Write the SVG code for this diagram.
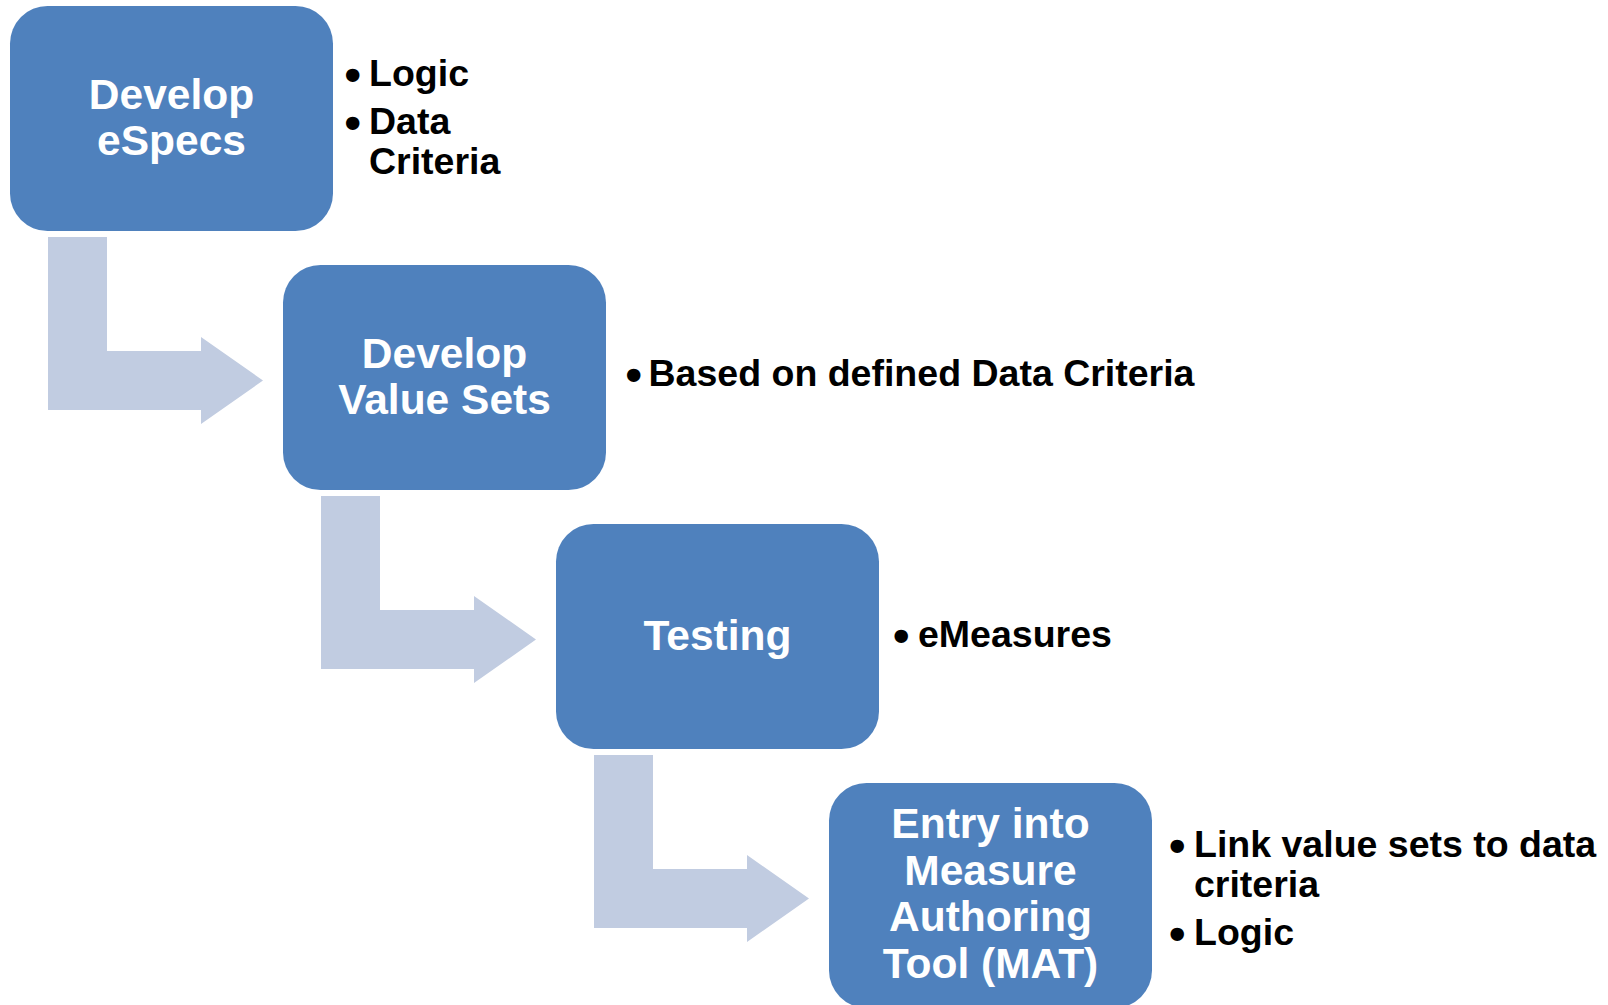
<svg xmlns="http://www.w3.org/2000/svg" width="1608" height="1005" viewBox="0 0 1608 1005">
  <defs>
    <style>
      .box { fill: #4F81BD; }
      .arrow { fill: #C1CCE1; }
      .bt { font-family: "Liberation Sans", Arial, sans-serif; font-weight: bold; font-size: 42.5px; fill: #FFFFFF; text-anchor: middle; }
      .lt { font-family: "Liberation Sans", Arial, sans-serif; font-weight: bold; font-size: 37.5px; fill: #000000; }
      .bu { font-size: 47px; }
    </style>
    <path id="bend" d="M48,237 H107 V351 H201 V337 L263,380.5 L201,424 V410 H48 Z"/>
  </defs>
  <rect width="1608" height="1005" fill="#FFFFFF"/>

  <g id="connectors">
    <use href="#bend" class="arrow"/>
    <use href="#bend" class="arrow" transform="translate(273,259)"/>
    <use href="#bend" class="arrow" transform="translate(546,518)"/>
  </g>

  <g id="node-develop-especs">
    <rect class="box" x="10" y="6" width="323" height="225" rx="37.5" ry="37.5"/>
    <text class="bt" x="171.5" y="108.5">Develop</text>
    <text class="bt" x="171.5" y="155">eSpecs</text>
  </g>
  <g id="notes-develop-especs">
    <text class="lt" y="86"><tspan class="bu" x="344.5" dy="5">•</tspan><tspan x="369" dy="-5">Logic</tspan></text>
    <text class="lt" y="134"><tspan class="bu" x="344.5" dy="5">•</tspan><tspan x="369" dy="-5">Data</tspan></text>
    <text class="lt" x="369" y="174">Criteria</text>
  </g>

  <g id="node-develop-value-sets">
    <rect class="box" x="283" y="265" width="323" height="225" rx="37.5" ry="37.5"/>
    <text class="bt" x="444.5" y="367.5">Develop</text>
    <text class="bt" x="444.5" y="414">Value Sets</text>
  </g>
  <g id="notes-develop-value-sets">
    <text class="lt" y="386"><tspan class="bu" x="625.5" dy="5">•</tspan><tspan x="648.5" dy="-5">Based on defined Data Criteria</tspan></text>
  </g>

  <g id="node-testing">
    <rect class="box" x="556" y="524" width="323" height="225" rx="37.5" ry="37.5"/>
    <text class="bt" x="717.5" y="650">Testing</text>
  </g>
  <g id="notes-testing">
    <text class="lt" y="647"><tspan class="bu" x="893" dy="5">•</tspan><tspan x="918" dy="-5">eMeasures</tspan></text>
  </g>

  <g id="node-mat">
    <rect class="box" x="829" y="783" width="323" height="225" rx="37.5" ry="37.5"/>
    <text class="bt" x="990.5" y="838">Entry into</text>
    <text class="bt" x="990.5" y="884.5">Measure</text>
    <text class="bt" x="990.5" y="931">Authoring</text>
    <text class="bt" x="990.5" y="977.5">Tool (MAT)</text>
  </g>
  <g id="notes-mat">
    <text class="lt" y="857"><tspan class="bu" x="1169" dy="5">•</tspan><tspan x="1194" dy="-5">Link value sets to data</tspan></text>
    <text class="lt" x="1194" y="897">criteria</text>
    <text class="lt" y="945"><tspan class="bu" x="1169" dy="5">•</tspan><tspan x="1194" dy="-5">Logic</tspan></text>
  </g>
</svg>
